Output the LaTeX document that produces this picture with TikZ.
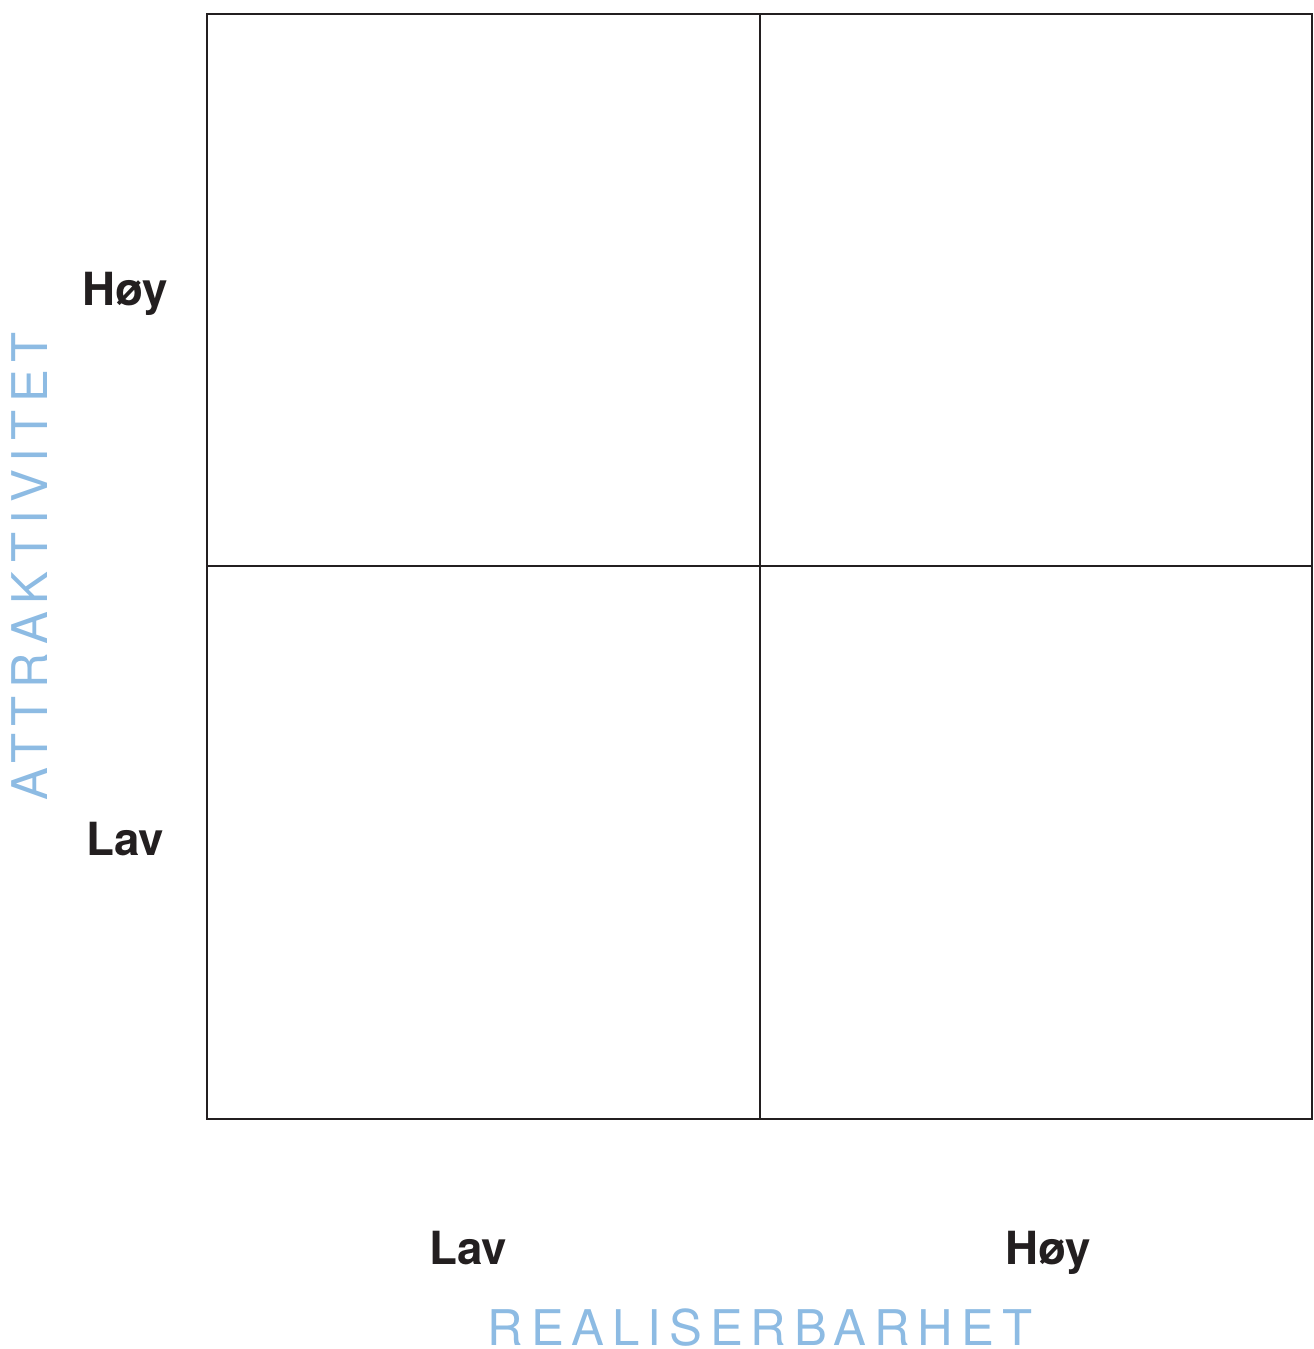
\documentclass[tikz,border=0pt]{standalone}
\usepackage{fontspec}
\setmainfont{TeX Gyre Heros}
\usepackage{tikz}
\usetikzlibrary{calc}

\definecolor{gridline}{HTML}{231F20}
\definecolor{axisblue}{HTML}{8DBBE3}

\begin{document}
\begin{tikzpicture}[x=0.02cm, y=-0.02cm,
    level/.style={font=\fontsize{26}{28}\selectfont\bfseries, text=gridline, inner sep=0pt, anchor=base},
    axis/.style={font=\fontsize{28}{30}\selectfont\addfontfeature{LetterSpace=16}, text=axisblue, inner sep=0pt, anchor=base}]
                \useasboundingbox (0,0) rectangle (1313,1349);
                \coordinate (TL) at (207,14);
                \coordinate (BR) at (1312,1119);
                \coordinate (M) at (760,566);
                \draw[gridline, line width=0.05cm] (TL) rectangle (BR);
                \draw[gridline, line width=0.05cm] (TL -| M) -- (BR -| M);
                \draw[gridline, line width=0.05cm] (TL |- M) -- (BR |- M);
                \node[level] (yHigh) at (125,305) {Høy};
                \node[level] (yLow) at (125,855) {Lav};
                \node[level] (xLow) at (468,1264) {Lav};
                \node[level] (xHigh) at (1048,1264) {Høy};
                \node[axis] (xTitle) at (760,1345) {REALISERBARHET};
                \node[axis, rotate=90] (yTitle) at (48,566) {ATTRAKTIVITET};
            \end{tikzpicture}
\end{document}
